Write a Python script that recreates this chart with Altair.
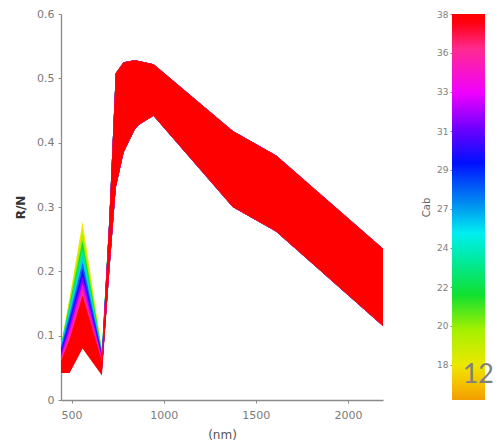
import altair as alt
import pandas as pd

# Sentinel-2 band centres (nm)
wavelengths = [443, 490, 560, 665, 705, 740, 783, 842, 865, 945, 1375, 1610, 2190]

# Chlorophyll (Cab) levels of the simulated spectra
cab_levels = [18, 20, 22, 24, 26, 28, 30, 32, 34, 36, 38]

# Upper envelope of each Cab level in the visible bands (443, 490, 560, 665)
vis_upper_18 = [0.086, 0.160, 0.277, 0.078]
vis_upper_20 = [0.086, 0.155, 0.262, 0.078]
vis_upper_22 = [0.086, 0.150, 0.248, 0.077]
vis_upper_24 = [0.086, 0.145, 0.236, 0.076]
vis_upper_26 = [0.085, 0.140, 0.225, 0.075]
vis_upper_28 = [0.082, 0.133, 0.214, 0.073]
vis_upper_30 = [0.078, 0.126, 0.203, 0.071]
vis_upper_32 = [0.073, 0.118, 0.192, 0.068]
vis_upper_34 = [0.068, 0.110, 0.182, 0.066]
vis_upper_36 = [0.064, 0.102, 0.172, 0.063]
vis_upper_38 = [0.060, 0.095, 0.162, 0.060]
vis_upper = [vis_upper_18, vis_upper_20, vis_upper_22, vis_upper_24, vis_upper_26,
             vis_upper_28, vis_upper_30, vis_upper_32, vis_upper_34, vis_upper_36,
             vis_upper_38]

# Lower envelope in the visible bands
vis_lower_38 = [0.042, 0.042, 0.080, 0.038]
vis_lower_other = [0.050, 0.055, 0.105, 0.045]

# Red-edge / NIR / SWIR envelope (705 ... 2190), shared by all Cab levels
nir_upper = [0.280, 0.508, 0.525, 0.528, 0.527, 0.522, 0.418, 0.380, 0.235]
nir_lower = [0.200, 0.330, 0.385, 0.420, 0.428, 0.442, 0.300, 0.262, 0.115]

# Colormap of the colour bar
cmap_stops = [16, 17, 18, 20, 22, 24, 25.5, 27, 29.5, 31.5, 33.5, 36, 37.5, 38]
cmap_colors = ["#f29c00", "#f5c400", "#ece800", "#a4f000", "#10e030", "#00eaa0",
               "#00eef0", "#0098f0", "#0010ff", "#7000ff", "#f000ff", "#ff2a90",
               "#ff0010", "#ff0000"]
cab_min, cab_max = 16, 38

cb_tick_values = [18, 20.22, 22.44, 24.67, 26.89, 29.11, 31.33, 33.56, 35.78, 38]
cb_tick_labels = ["18", "20", "22", "24", "27", "29", "31", "33", "36", "38"]

x_ticks = [500, 1000, 1500, 2000]
y_ticks = [0, 0.1, 0.2, 0.3, 0.4, 0.5, 0.6]

rows = []
for cab, up in zip(cab_levels, vis_upper):
    lo = vis_lower_38 if cab == 38 else vis_lower_other
    for w, u, l in zip(wavelengths, up + nir_upper, lo + nir_lower):
        rows.append({"wl": w, "upper": u, "lower": l, "cab": cab})
df = pd.DataFrame(rows)

color_scale = alt.Scale(domain=cmap_stops, range=cmap_colors, interpolate="rgb")

FONT = "DejaVu Sans"
AX = "#8a8a8a"

main = alt.Chart(df).mark_area(opacity=1, interpolate="linear").encode(
    x=alt.X("wl:Q", scale=alt.Scale(domain=[443, 2190], nice=False, zero=False),
            axis=alt.Axis(values=x_ticks, format="d", title="(nm)", grid=False, tickSize=3,
                          labelPadding=6, titlePadding=9, labelFontSize=11,
                          labelColor="#7a7a7a", titleFontSize=12, titleColor="#555555",
                          titleFontWeight="normal", domainColor=AX, tickColor=AX,
                          domainWidth=1.3, labelFont=FONT, titleFont=FONT)),
    y=alt.Y("upper:Q", scale=alt.Scale(domain=[0, 0.6], nice=False),
            axis=alt.Axis(values=y_ticks, title="R/N", grid=False, tickSize=3,
                          labelPadding=4, titlePadding=9, labelFontSize=11,
                          labelColor="#7a7a7a", titleFontSize=12, titleColor="#333333",
                          titleFontWeight="bold", domainColor=AX, tickColor=AX,
                          domainWidth=1.3, labelFont=FONT, titleFont=FONT,
                          labelExpr="datum.value == 0 ? '0' : format(datum.value, '.1f')")),
    y2="lower:Q",
    color=alt.Color("cab:Q", scale=color_scale, legend=None),
    detail="cab:Q",
).properties(width=322, height=386)

stops = [alt.GradientStop(offset=(v - cab_min) / (cab_max - cab_min), color=c)
         for v, c in zip(cmap_stops, cmap_colors)]
grad = alt.LinearGradient(gradient="linear", stops=stops, x1=0, x2=0, y1=1, y2=0)

cb_df = pd.DataFrame({"lo": [cab_min], "hi": [cab_max]})
label_expr = "[%s][indexof([%s], datum.value)]" % (
    ",".join("'%s'" % s for s in cb_tick_labels),
    ",".join(str(v) for v in cb_tick_values))

cbar = alt.Chart(cb_df).mark_rect(color=grad).encode(
    x=alt.value(0), x2=alt.value("width"),
    y=alt.Y("lo:Q", scale=alt.Scale(domain=[cab_min, cab_max], nice=False, zero=False),
            axis=alt.Axis(values=cb_tick_values, labelExpr=label_expr, title="Cab",
                          grid=False, domain=False, tickSize=2, tickColor=AX,
                          labelPadding=2, titlePadding=5, labelFontSize=9,
                          labelColor="#808080", titleFontSize=10, titleColor="#666666",
                          titleFontWeight="normal", labelFont=FONT, titleFont=FONT)),
    y2="hi:Q",
).properties(width=33, height=386,
             title=alt.TitleParams("12", orient="bottom", anchor="end", fontSize=27,
                                   font="Lato", fontWeight="normal", color="#7f7f7f",
                                   offset=-38, dx=9))

chart = alt.hconcat(main, cbar, spacing=38).properties(
    padding={"left": 14, "top": 8, "right": 0, "bottom": 0},
    background="white",
).configure_view(stroke=None)

chart.save("out.html", embed_options={"renderer": "svg", "actions": False})
